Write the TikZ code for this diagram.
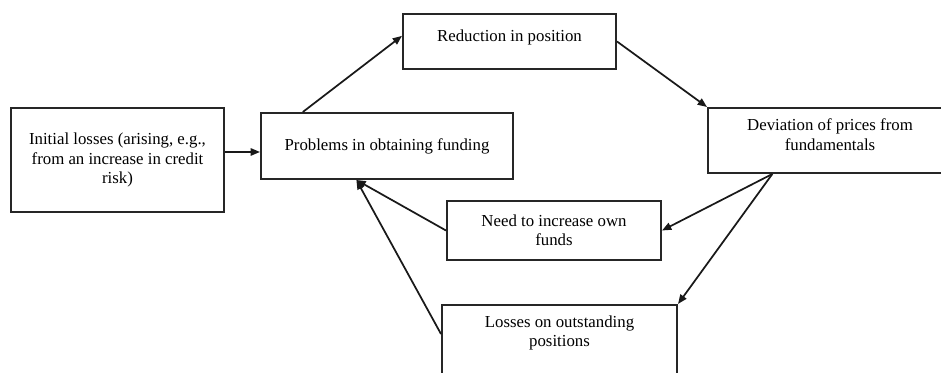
\documentclass[tikz,border=0pt]{standalone}
\usepackage{fontspec}
\setmainfont{Liberation Serif}
\usetikzlibrary{arrows.meta}

\begin{document}
\begin{tikzpicture}[x=0.75pt, y=-0.75pt,
        box/.style={draw=black!85, line width=1.5pt, align=center,
            font=\fontsize{12.6}{14.6}\selectfont},
        flow/.style={-{Triangle[length=7pt,width=5.5pt]}, draw=black!90, line width=1.3pt}]
            \useasboundingbox (0,0) rectangle (941,373);
            \clip (0,0) rectangle (941,373);
            \node[box, minimum width=159.75pt, minimum height=78pt] (init) at (117.5,160) {Initial losses (arising, e.g.,\\from an increase in credit\\risk)};
            \node[box, minimum width=189pt, minimum height=49.5pt] (prob) at (387,146) {Problems in obtaining funding};
            \node[box, minimum width=159.75pt, minimum height=41.25pt, text depth=8pt] (red) at (509.5,41.5) {Reduction in position};
            \node[box, minimum width=183pt, minimum height=48.75pt, text depth=9pt] (dev) at (830,140.5) {Deviation of prices from\\fundamentals};
            \node[box, minimum width=160.5pt, minimum height=44.25pt] (need) at (554,230.5) {Need to increase own\\funds};
            \node[box, minimum width=176.25pt, inner ysep=8pt, text depth=60pt, anchor=north] (losses) at (559.5,304) {Losses on outstanding\\positions};
            \draw[flow] ([yshift=6pt]init.east) -- ([yshift=6pt]init.east -| prob.west);
            \draw[flow] (prob.158) -- (red.177);
            \draw[flow] (red.east) -- (dev.north west);
            \draw[flow] ([xshift=49pt]dev.south west) -- (need.east);
            \draw[flow] ([xshift=49pt]dev.south west) -- (losses.north east);
            \draw[flow] (need.west) -- (prob.228);
            \draw[flow] ([yshift=-22.5pt]losses.north west) -- (prob.228);
        \end{tikzpicture}
\end{document}
